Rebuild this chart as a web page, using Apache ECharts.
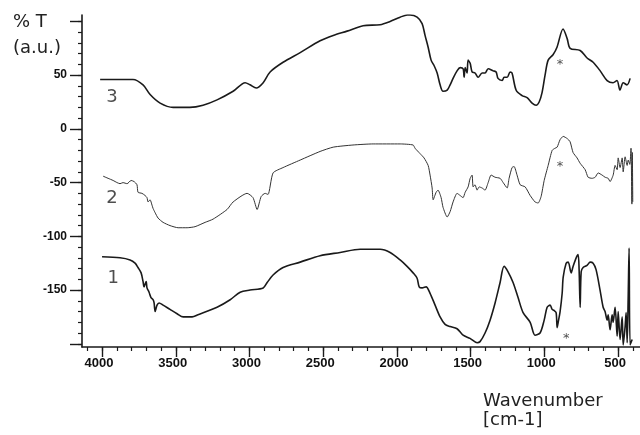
<!DOCTYPE html>
<html><head><meta charset="utf-8">
<script src="https://cdn.jsdelivr.net/npm/echarts@6/dist/echarts.min.js"></script>
<style>html,body{margin:0;padding:0;background:#fff}#c{width:640px;height:435px}</style>
</head><body><div id="c"></div>
<script>
// Sample 3 (top)
const wn3 = [4013,3790,3722,3674,3606,3518,3404,3315,3220,3111,
  3029,2996,2954,2907,2860,2772,2656,2521,2432,2338,
  2229,2114,2046,1978,1930,1911,1863,1829,1809,1788,
  1768,1748,1727,1707,1687,1659,1639,1619,1592,1571,
  1551,1544,1537,1524,1517,1503,1490,1470,1449,1422,
  1402,1381,1347,1327,1314,1286,1273,1252,1232,1219,
  1191,1151,1117,1083,1056,1035,1015,995,974,941,
  914,873,845,825,757,710,669,621,574,534,
  507,487,465,439,418];
const t3 = [46,46,41,32,24,20,20,22,27,35,
  43,41,38,43,53,62,71,82,87,91,
  96,97,100,104,106,106,104,98,87,76,
  64,59,52,41,35,36,41,47,54,57,
  56,48,57,52,64,61,53,52,48,52,
  52,56,54,53,47,45,48,48,53,52,
  36,31,29,24,22,25,34,50,64,69,
  76,93,84,75,73,66,62,54,45,43,
  45,36,43,41,47];
// Sample 2 (middle)
const wn2 = [3993,3959,3925,3898,3878,3858,3830,3803,3783,3763,
  3756,3729,3708,3695,3688,3674,3661,3654,3640,3620,
  3586,3539,3484,3423,3369,3301,3247,3152,3111,3016,
  2976,2948,2921,2894,2874,2840,2772,2656,2521,2432,
  2298,2161,1978,1890,1877,1843,1816,1788,1775,1761,
  1754,1734,1721,1700,1687,1659,1639,1619,1592,1571,
  1551,1537,1517,1503,1490,1483,1470,1456,1442,1422,
  1402,1381,1361,1334,1300,1279,1252,1239,1219,1205,
  1185,1164,1130,1096,1063,1042,1022,1001,974,947,
  927,913,893,872,845,825,805,778,757,723,
  703,676,655,635,608,588,567,554,533,520,
  506,499,486,472,465,452,438,431,420,412,
  406,403,400];
const t2 = [-44,-46,-48,-50,-51,-50,-51,-48,-49,-52,
  -59,-60,-62,-64,-68,-66,-71,-74,-78,-83,
  -87,-90,-92,-92,-91,-87,-84,-75,-68,-60,
  -64,-75,-63,-60,-61,-41,-36,-29,-21,-17,
  -15,-14,-14,-15,-18,-23,-27,-34,-43,-55,
  -66,-59,-57,-64,-73,-82,-77,-68,-60,-62,
  -64,-59,-54,-46,-43,-54,-52,-57,-54,-55,
  -57,-50,-43,-45,-46,-50,-55,-46,-36,-35,
  -43,-52,-54,-62,-68,-69,-63,-48,-34,-20,
  -18,-17,-10,-7,-9,-12,-22,-27,-32,-38,
  -45,-46,-45,-41,-43,-45,-46,-49,-43,-34,
  -38,-27,-36,-27,-40,-26,-34,-29,-33,-18,
  -70,-22,-68];
// Sample 1 (bottom)
const wn1 = [4000,3878,3810,3776,3756,3735,3722,3715,3701,3695,
  3681,3668,3654,3647,3640,3627,3613,3586,3539,3491,
  3450,3389,3349,3220,3131,3063,2996,2907,2880,2840,
  2772,2656,2521,2385,2249,
  2114,2046,1978,1931,1890,1863,1849,1829,1802,1775,
  1741,1707,1673,1639,1592,1551,1504,1456,1436,1402,
  1368,1334,1300,1273,1246,1212,1178,1144,1096,1063,
  1029,1001,981,961,947,934,920,913,906,893,
  879,872,852,838,818,805,784,771,764,757,
  750,737,710,689,669,649,622,601,588,574,
  567,554,540,533,520,506,499,486,472,465,
  452,445,438,431,425,418,404];
const t1 = [-119,-120,-122,-125,-129,-134,-142,-147,-142,-148,
  -152,-157,-159,-162,-170,-164,-162,-164,-168,-172,
  -175,-175,-173,-166,-159,-152,-150,-148,-143,-136,
  -129,-124,-118,-115,-112,
  -112,-115,-122,-128,-134,-139,-147,-148,-147,-153,
  -164,-175,-182,-184,-186,-192,-195,-199,-198,-190,
  -178,-162,-143,-128,-133,-143,-157,-171,-180,-192,
  -190,-178,-166,-164,-168,-169,-171,-185,-180,-170,
  -153,-138,-125,-124,-134,-128,-120,-117,-131,-166,
  -133,-129,-127,-124,-125,-131,-150,-166,-170,-178,
  -173,-187,-173,-180,-166,-193,-170,-196,-175,-201,
  -184,-171,-199,-156,-111,-201,-196];

const xLabelValues = [4000,3500,3000,2500,2000,1500,1000,500];
const xMinorTicks = [4100,4000,3900,3800,3700,3600,3500,3400,3300,3200,3100,3000,2900,2800,2700,2600,2500,2400,2300,2200,2100,2000,1900,1800,1700,1600,1500,1400,1300,1200,1100,1000,900,800,700,600,500,400];
const yLabelValues = [50,0,-50,-100,-150];
const yMajorTicks = [100,50,0,-50,-100,-150,-200];
const yMinorTicks = [100,90,80,70,60,50,40,30,20,10,0,-10,-20,-30,-40,-50,-60,-70,-80,-90,-100,-110,-120,-130,-140,-150,-160,-170,-180,-190,-200];

const noteText = ['3','2','1','*','*','*'];
const noteWn = [3932,3932,3925,893,893,852];
const noteT = [29,-65,-139,63,-32,-192];

function pairs(xs, ys){ return xs.map((x,i)=>[x, ys[i]]); }

const X_MIN = 351, X_MAX = 4136, Y_MIN = -203, Y_MAX = 106;
const ink = '#1a1a1a';
const labelFont = 'Liberation Sans';

const chart = echarts.init(document.getElementById('c'), null, {renderer:'canvas'});
const baseX = {type:'value', inverse:true, min:X_MIN, max:X_MAX, gridIndex:0, position:'bottom', splitLine:{show:false}};
const baseY = {type:'value', min:Y_MIN, max:Y_MAX, gridIndex:0, position:'left', splitLine:{show:false}};

chart.setOption({
  animation:false,
  backgroundColor:'#ffffff',
  grid:{left:82, right:0, top:15, bottom:88, containLabel:false},
  xAxis:[
    Object.assign({}, baseX, {
      axisLine:{show:true, onZero:false, lineStyle:{color:ink, width:1.6}},
      axisTick:{show:true, length:10, customValues:xLabelValues, lineStyle:{color:ink, width:1.4}},
      axisLabel:{show:true, customValues:xLabelValues, formatter:(v)=>String(v), margin:10, color:'#111', fontFamily:labelFont, fontWeight:'bold', fontSize:13, padding:[0,6,0,0]}
    }),
    Object.assign({}, baseX, {
      axisLine:{show:false, onZero:false},
      axisTick:{show:true, length:4, customValues:xMinorTicks, lineStyle:{color:ink, width:1.2}},
      axisLabel:{show:false}
    })
  ],
  yAxis:[
    Object.assign({}, baseY, {
      axisLine:{show:true, onZero:false, lineStyle:{color:ink, width:1.6}},
      axisTick:{show:true, length:12, customValues:yMajorTicks, lineStyle:{color:ink, width:1.4}},
      axisLabel:{show:true, customValues:yLabelValues, formatter:(v)=>String(v), margin:15, color:'#111', fontFamily:labelFont, fontWeight:'bold', fontSize:12}
    }),
    Object.assign({}, baseY, {
      axisLine:{show:false, onZero:false},
      axisTick:{show:true, length:4, customValues:yMinorTicks, lineStyle:{color:ink, width:1.2}},
      axisLabel:{show:false}
    })
  ],
  series:[
    {type:'line', name:'3', data:pairs(wn3,t3), showSymbol:false, smooth:0.3, lineStyle:{color:ink, width:1.6}, xAxisIndex:0, yAxisIndex:0},
    {type:'line', name:'2', data:pairs(wn2,t2), showSymbol:false, smooth:0.2, lineStyle:{color:'#333', width:1}, xAxisIndex:0, yAxisIndex:0},
    {type:'line', name:'1', data:pairs(wn1,t1), showSymbol:false, smooth:0.3, lineStyle:{color:ink, width:1.6}, xAxisIndex:0, yAxisIndex:0},
    {type:'scatter', name:'notes', xAxisIndex:0, yAxisIndex:0, symbolSize:0, silent:true,
      data: noteText.map((t,i)=>({value:[noteWn[i], noteT[i]], name:t,
        label:{fontSize: t==='*' ? 13 : 18, offset: t==='*' ? [0,3] : [0,0]}})),
      label:{show:true, position:'inside', formatter:(p)=>p.name, color:'#222', fontFamily:'DejaVu Sans'}
    }
  ],
  graphic:[
    {type:'text', left:13, top:13, style:{text:'% T', font:'18px "DejaVu Sans"', fill:'#222'}},
    {type:'text', left:13, top:39, style:{text:'(a.u.)', font:'18px "DejaVu Sans"', fill:'#222'}},
    {type:'text', left:483, top:392, style:{text:'Wavenumber', font:'18px "DejaVu Sans"', fill:'#222'}},
    {type:'text', left:483, top:411, style:{text:'[cm-1]', font:'18px "DejaVu Sans"', fill:'#222'}}
  ]
});
</script>
</body></html>
